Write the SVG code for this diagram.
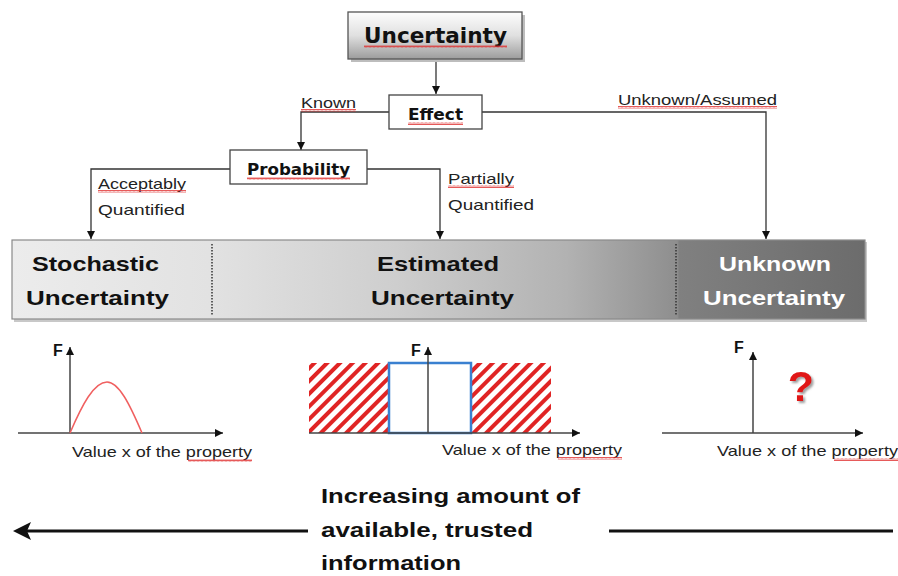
<svg xmlns="http://www.w3.org/2000/svg" width="898" height="576" viewBox="0 0 898 576">
<defs>
<style>
.bx{fill:#fff;stroke:#444;stroke-width:1.3}
.con{fill:none;stroke:#333;stroke-width:1.3}
.ax{fill:none;stroke:#444;stroke-width:1.5}
.lbl{font-family:"Liberation Sans",Arial,sans-serif;font-size:14.5px;fill:#222}
.nb{font-family:"DejaVu Sans",Verdana,sans-serif;font-weight:bold;fill:#111}
.band{font-family:"Liberation Sans",Arial,sans-serif;font-weight:bold;font-size:21px;fill:#111}
.bt{font-family:"Liberation Sans",Arial,sans-serif;font-weight:bold;font-size:20px;fill:#111}
.F{font-family:"Liberation Sans",Arial,sans-serif;font-weight:bold;font-size:16px;fill:#111}
.val{font-family:"Liberation Sans",Arial,sans-serif;font-size:14.5px;fill:#222}
.wavy{fill:url(#wv)}
</style>
<pattern id="wv" width="4" height="3" patternUnits="userSpaceOnUse">
<polyline points="0,2.5 1,0.5 2,2.5 3,0.5 4,2.5" fill="none" stroke="#e03030" stroke-width="0.8"/>
</pattern>
<pattern id="hatch" width="9" height="9" patternUnits="userSpaceOnUse" patternTransform="rotate(45)">
<rect width="9" height="9" fill="#fff"/>
<rect width="4" height="9" fill="#e02424"/>
</pattern>
<linearGradient id="gTop" x1="0" y1="0" x2="0" y2="1">
<stop offset="0" stop-color="#fdfdfd"/>
<stop offset="0.5" stop-color="#e0e0e0"/>
<stop offset="1" stop-color="#9c9c9c"/>
</linearGradient>
<linearGradient id="gBand" x1="0" y1="0" x2="1" y2="0">
<stop offset="0" stop-color="#ececec"/>
<stop offset="0.23" stop-color="#e2e2e2"/>
<stop offset="0.45" stop-color="#cecece"/>
<stop offset="0.65" stop-color="#b2b2b2"/>
<stop offset="0.78" stop-color="#8e8e8e"/>
<stop offset="0.782" stop-color="#808080"/>
<stop offset="1" stop-color="#6c6c6c"/>
</linearGradient>
<filter id="qs" x="-20%" y="-20%" width="160%" height="160%">
<feDropShadow dx="2" dy="2" stdDeviation="0.8" flood-color="#888" flood-opacity="0.8"/>
</filter>
<marker id="ah" viewBox="0 0 10 10" refX="10" refY="5" markerWidth="8" markerHeight="8" markerUnits="userSpaceOnUse" orient="auto">
<path d="M0,0 L10,5 L0,10 Z" fill="#111"/>
</marker>
</defs>
<rect width="898" height="576" fill="#fff"/>

<g id="connectors">
<path class="con" d="M436,59 V94" marker-end="url(#ah)"/>
<path class="con" d="M389,112 H301 V150" marker-end="url(#ah)"/>
<path class="con" d="M482,112 H766 V239" marker-end="url(#ah)"/>
<path class="con" d="M230,169 H91 V239" marker-end="url(#ah)"/>
<path class="con" d="M367,169 H440 V239" marker-end="url(#ah)"/>
<text class="lbl" x="301" y="108" textLength="55" lengthAdjust="spacingAndGlyphs">Known</text>
<rect class="wavy" x="301" y="109" width="55" height="3"/>
<text class="lbl" x="618" y="105" textLength="159" lengthAdjust="spacingAndGlyphs">Unknown/Assumed</text>
<rect class="wavy" x="618" y="106" width="159" height="3"/>
<text class="lbl" x="98" y="189" textLength="88" lengthAdjust="spacingAndGlyphs">Acceptably</text>
<rect class="wavy" x="98" y="190" width="88" height="3"/>
<text class="lbl" x="98" y="215" textLength="87" lengthAdjust="spacingAndGlyphs">Quantified</text>
<text class="lbl" x="448" y="184" textLength="66" lengthAdjust="spacingAndGlyphs">Partially</text>
<rect class="wavy" x="448" y="185" width="66" height="3"/>
<text class="lbl" x="448" y="210" textLength="86" lengthAdjust="spacingAndGlyphs">Quantified</text>
</g>

<g id="uncertainty">
<rect x="351" y="15" width="174" height="47" fill="#bdbdbd"/>
<rect x="348" y="12" width="174" height="47" fill="url(#gTop)" stroke="#555" stroke-width="1.3"/>
<text class="nb" x="364" y="43" font-size="21" textLength="143" lengthAdjust="spacingAndGlyphs">Uncertainty</text>
<rect class="wavy" x="364" y="45" width="143" height="3"/>
</g>

<g id="effect">
<rect class="bx" x="389" y="95" width="93" height="34"/>
<text class="nb" x="408" y="120" font-size="15" textLength="55" lengthAdjust="spacingAndGlyphs">Effect</text>
<rect class="wavy" x="408" y="122" width="55" height="3"/>
</g>

<g id="probability">
<rect class="bx" x="230" y="150" width="137" height="34"/>
<text class="nb" x="247" y="175" font-size="15" textLength="103" lengthAdjust="spacingAndGlyphs">Probability</text>
<rect class="wavy" x="247" y="177" width="103" height="3"/>
</g>

<g id="band">
<rect x="14" y="242" width="853" height="80" fill="#c8c8c8"/>
<rect x="12" y="240" width="853" height="79" fill="url(#gBand)" stroke="#8a8a8a" stroke-width="1.2"/>
<line x1="212" y1="244" x2="212" y2="315" stroke="#333" stroke-width="1.5" stroke-dasharray="1.5,1.5"/>
<line x1="676" y1="244" x2="676" y2="315" stroke="#333" stroke-width="1.5" stroke-dasharray="1.5,1.5"/>
<text class="band" x="32" y="271" textLength="127" lengthAdjust="spacingAndGlyphs">Stochastic</text>
<text class="band" x="26" y="305" textLength="143" lengthAdjust="spacingAndGlyphs">Uncertainty</text>
<text class="band" x="377" y="271" textLength="122" lengthAdjust="spacingAndGlyphs">Estimated</text>
<text class="band" x="371" y="305" textLength="143" lengthAdjust="spacingAndGlyphs">Uncertainty</text>
<text class="band" x="719" y="271" textLength="112" lengthAdjust="spacingAndGlyphs" style="fill:#fff">Unknown</text>
<text class="band" x="703" y="305" textLength="142" lengthAdjust="spacingAndGlyphs" style="fill:#fff">Uncertainty</text>
</g>

<g id="graph-stochastic">
<path class="ax" d="M70,433 V347" marker-end="url(#ah)"/>
<path class="ax" d="M18,433 H223" marker-end="url(#ah)"/>
<path d="M70,433 C82,405 94,382 107,382 C119,382 130,405 142,433" fill="none" stroke="#f06060" stroke-width="1.5"/>
<text class="F" x="53" y="356">F</text>
<text class="val" x="72" y="457" textLength="180" lengthAdjust="spacingAndGlyphs">Value x of the property</text>
<rect class="wavy" x="188" y="459" width="64" height="3"/>
</g>

<g id="graph-estimated">
<rect x="309" y="363" width="80" height="70" fill="url(#hatch)"/>
<rect x="471" y="363" width="80" height="70" fill="url(#hatch)"/>
<rect x="389" y="363" width="82" height="70" fill="#fff" stroke="#3a80d0" stroke-width="2.5"/>
<path class="ax" d="M428,433 V347" marker-end="url(#ah)"/>
<path class="ax" d="M309,433 H580" marker-end="url(#ah)"/>
<text class="F" x="411" y="356">F</text>
<text class="val" x="442" y="455" textLength="180" lengthAdjust="spacingAndGlyphs">Value x of the property</text>
<rect class="wavy" x="558" y="457" width="64" height="3"/>
</g>

<g id="graph-unknown">
<path class="ax" d="M753,433 V352" marker-end="url(#ah)"/>
<path class="ax" d="M662,433 H863" marker-end="url(#ah)"/>
<text class="F" x="734" y="353">F</text>
<text x="801" y="401" font-family="Liberation Sans,Arial,sans-serif" font-weight="bold" font-size="43" fill="#e01414" text-anchor="middle" filter="url(#qs)">?</text>
<text class="val" x="717" y="456" textLength="181" lengthAdjust="spacingAndGlyphs">Value x of the property</text>
<rect class="wavy" x="834" y="458" width="64" height="3"/>
</g>

<g id="info-arrow">
<path d="M308,531 H24" stroke="#111" stroke-width="3" fill="none"/>
<path d="M13,531 L31,522 L27,531 L31,540 Z" fill="#111"/>
<path d="M609,531 H893" stroke="#111" stroke-width="3" fill="none"/>
<text class="bt" x="321" y="503" textLength="259" lengthAdjust="spacingAndGlyphs">Increasing amount of</text>
<text class="bt" x="321" y="537" textLength="212" lengthAdjust="spacingAndGlyphs">available, trusted</text>
<text class="bt" x="321" y="570" textLength="140" lengthAdjust="spacingAndGlyphs">information</text>
</g>
</svg>
